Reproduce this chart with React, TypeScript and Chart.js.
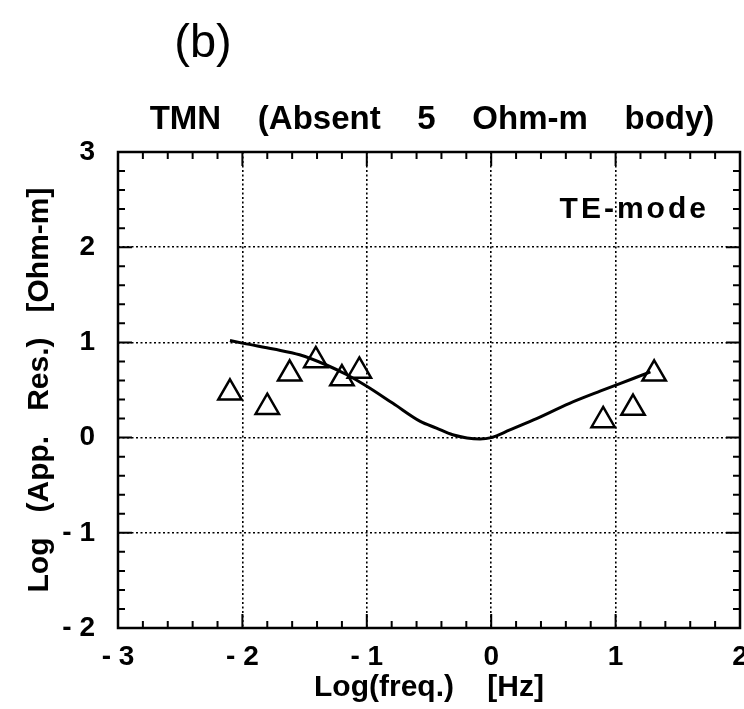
import React, { useEffect, useRef } from "react";
import { Chart, registerables } from "chart.js";

Chart.register(...registerables);

// Model response curve (TE-mode)
const curveLogFreq = [-2.10, -1.99, -1.75, -1.54, -1.32, -1.16, -1.0, -0.79, -0.57, -0.44, -0.31, -0.09, 0.0, 0.15, 0.34, 0.63, 0.88, 1.04, 1.28];
const curveLogRes = [1.02, 0.99, 0.93, 0.87, 0.76, 0.66, 0.54, 0.36, 0.17, 0.10, 0.03, -0.015, 0.0, 0.08, 0.185, 0.36, 0.49, 0.57, 0.69];

// Observed data (triangles)
const obsLogFreq = [-2.10, -1.80, -1.62, -1.41, -1.20, -1.06, 0.90, 1.14, 1.31];
const obsLogRes = [0.47, 0.32, 0.67, 0.81, 0.62, 0.70, 0.18, 0.31, 0.67];

const xTickValues = [-3, -2, -1, 0, 1, 2];
const yTickValues = [-2, -1, 0, 1, 2, 3];

const panelLabel = "(b)";
const chartTitle = "TMN    (Absent    5    Ohm-m    body)";
const modeLabel = "TE-mode";
const xTitle = "Log(freq.)    [Hz]";
const yTitle = "Log   (App.   Res.)   [Ohm-m]";

const FONT = "'Liberation Sans', Arial, Helvetica, sans-serif";

const fmt = (v: number) => (v < 0 ? "- " + Math.abs(v) : String(v));

const framePlugin = {
  id: "frame",
  afterDatasetsDraw(chart: any) {
    const { ctx, chartArea } = chart;
    const xs = chart.scales.x;
    const ys = chart.scales.y;
    const { left, right, top, bottom } = chartArea;
    ctx.save();
    ctx.strokeStyle = "#000";
    ctx.lineWidth = 2.5;
    ctx.setLineDash([]);
    ctx.strokeRect(left, top, right - left, bottom - top);
    ctx.lineWidth = 2;
    const xmin = xTickValues[0];
    const xmax = xTickValues[xTickValues.length - 1];
    for (let i = 0; i <= (xmax - xmin) * 5; i++) {
      const v = xmin + i * 0.2;
      const major = i % 5 === 0;
      const len = major ? 14 : 7;
      const px = xs.getPixelForValue(v);
      ctx.beginPath();
      ctx.moveTo(px, bottom);
      ctx.lineTo(px, bottom - len);
      ctx.moveTo(px, top);
      ctx.lineTo(px, top + len);
      ctx.stroke();
    }
    const ymin = yTickValues[0];
    const ymax = yTickValues[yTickValues.length - 1];
    for (let i = 0; i <= (ymax - ymin) * 5; i++) {
      const v = ymin + i * 0.2;
      const major = i % 5 === 0;
      const len = major ? 14 : 7;
      const py = ys.getPixelForValue(v);
      ctx.beginPath();
      ctx.moveTo(left, py);
      ctx.lineTo(left + len, py);
      ctx.moveTo(right, py);
      ctx.lineTo(right - len, py);
      ctx.stroke();
    }
    // Texts
    ctx.fillStyle = "#000";
    ctx.textAlign = "center";
    ctx.textBaseline = "middle";
    ctx.font = `normal 47px ${FONT}`;
    ctx.fillText(panelLabel, 203, 44);
    ctx.font = `bold 33px ${FONT}`;
    ctx.textBaseline = "alphabetic";
    ctx.fillText(chartTitle, 432, 129);
    ctx.font = `bold 30px ${FONT}`;
    ctx.textAlign = "right";
    try { (ctx as any).letterSpacing = "3px"; } catch (e) {}
    ctx.fillText(modeLabel, xs.getPixelForValue(1.75), ys.getPixelForValue(2.31));
    ctx.restore();
  },
};

export default function App() {
  const ref = useRef<HTMLCanvasElement | null>(null);
  useEffect(() => {
    if (!ref.current) return;
    const chart = new Chart(ref.current, {
      type: "scatter",
      data: {
        datasets: [
          {
            label: "model",
            data: curveLogFreq.map((x, i) => ({ x, y: curveLogRes[i] })),
            showLine: true,
            borderColor: "#000",
            borderWidth: 3,
            pointRadius: 0,
            cubicInterpolationMode: "monotone",
            fill: false,
          },
          {
            label: "observed",
            data: obsLogFreq.map((x, i) => ({ x, y: obsLogRes[i] })),
            showLine: false,
            pointStyle: "triangle",
            pointRadius: 13.5,
            borderColor: "#000",
            borderWidth: 2.5,
            backgroundColor: "rgba(0,0,0,0)",
          },
        ],
      } as any,
      options: {
        animation: false,
        responsive: false,
        layout: { autoPadding: false, padding: { top: 152, right: 4, bottom: 0, left: 0 } },
        plugins: { legend: { display: false }, tooltip: { enabled: false }, title: { display: false } },
        scales: {
          x: {
            type: "linear",
            min: -3,
            max: 2,
            afterFit: (s: any) => { s.height = 81; s.paddingLeft = 0; s.paddingRight = 0; },
            afterBuildTicks: (s: any) => { s.ticks = xTickValues.map((v) => ({ value: v })); },
            ticks: {
              color: "#000",
              font: { family: FONT, size: 28, weight: "bold" },
              padding: 12,
              maxRotation: 0,
              callback: (v: any) => fmt(Number(v)),
            },
            grid: { color: "#000", lineWidth: 1.6, drawTicks: false },
            border: { display: false, dash: [2, 2.5] },
            title: {
              display: true,
              text: xTitle,
              color: "#000",
              font: { family: FONT, size: 30, weight: "bold" },
              padding: { top: 0, bottom: 3 },
            },
          },
          y: {
            type: "linear",
            min: -2,
            max: 3,
            afterFit: (s: any) => { s.width = 118; s.paddingTop = 0; s.paddingBottom = 0; },
            afterBuildTicks: (s: any) => { s.ticks = yTickValues.map((v) => ({ value: v })); },
            ticks: {
              color: "#000",
              font: { family: FONT, size: 28, weight: "bold" },
              padding: 23,
              callback: (v: any) => fmt(Number(v)),
            },
            grid: { color: "#000", lineWidth: 1.6, drawTicks: false },
            border: { display: false, dash: [2, 2.5] },
            title: {
              display: true,
              text: yTitle,
              color: "#000",
              font: { family: FONT, size: 30, weight: "bold" },
              padding: { top: 22, bottom: 0 },
            },
          },
        },
      } as any,
      plugins: [framePlugin],
    });
    return () => chart.destroy();
  }, []);
  return (
    <div style={{ position: "absolute", left: 0, top: 0, width: 744, height: 709, background: "#fff" }}>
      <canvas ref={ref} width={744} height={709} style={{ display: "block" }} />
    </div>
  );
}
